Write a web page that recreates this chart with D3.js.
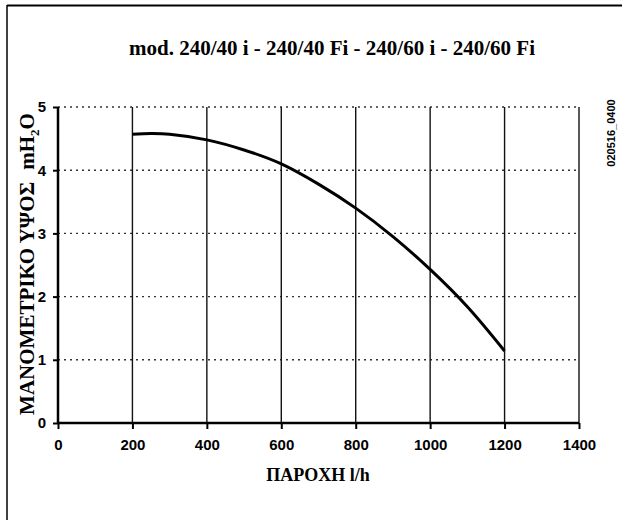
<!DOCTYPE html>
<html><head><meta charset="utf-8">
<script src="https://cdn.jsdelivr.net/npm/d3@7"></script>
<style>body{margin:0;background:#fff}svg{display:block}</style>
</head><body>
<script>
const flowValues = [200, 250, 300, 400, 500, 600, 700, 800, 900, 1000, 1100, 1200];
const headValues = [4.57, 4.58, 4.57, 4.48, 4.32, 4.10, 3.78, 3.40, 2.95, 2.43, 1.84, 1.14];
const xTicks = [0, 200, 400, 600, 800, 1000, 1200, 1400];
const yTicks = [0, 1, 2, 3, 4, 5];
const titleText = "mod. 240/40 i - 240/40 Fi - 240/60 i - 240/60 Fi";
const xTitle = "ΠΑΡΟΧΗ l/h";
const yTitle = "ΜΑΝΟΜΕΤΡΙΚΟ ΥΨΟΣ";
const codeText = "020516_0400";

const W = 622, H = 520;
const svg = d3.select("body").append("svg").attr("width", W).attr("height", H);

// frame
svg.append("line").attr("x1", 7).attr("x2", W).attr("y1", 5.5).attr("y2", 5.5).attr("stroke", "#000").attr("stroke-width", 2);
svg.append("line").attr("x1", 7).attr("x2", 7).attr("y1", 5).attr("y2", H).attr("stroke", "#000").attr("stroke-width", 1.5);

const x = d3.scaleLinear().domain([0, 1400]).range([58, 579]);
const y = d3.scaleLinear().domain([0, 5]).range([423, 107]);

// horizontal dotted gridlines
svg.append("g").selectAll("line").data(yTicks.filter(d => d > 0)).join("line")
  .attr("x1", x(0)).attr("x2", x(1400)).attr("y1", d => y(d)).attr("y2", d => y(d))
  .attr("stroke", "#333").attr("stroke-width", 1.4).attr("stroke-dasharray", "2,4");

// vertical solid gridlines
svg.append("g").selectAll("line").data(xTicks.filter(d => d > 0)).join("line")
  .attr("x1", d => x(d)).attr("x2", d => x(d)).attr("y1", y(0)).attr("y2", y(5))
  .attr("stroke", "#111").attr("stroke-width", 1.4);

// axes
const fmt = d3.format("d");
const xAxis = svg.append("g").attr("transform", `translate(0,${y(0)})`)
  .call(d3.axisBottom(x).tickValues(xTicks).tickFormat(fmt).tickSize(6).tickPadding(10).tickSizeOuter(0));
const yAxis = svg.append("g").attr("transform", `translate(${x(0)},0)`)
  .call(d3.axisLeft(y).tickValues(yTicks).tickFormat(fmt).tickSize(5).tickPadding(7).tickSizeOuter(0));
[xAxis, yAxis].forEach(a => {
  a.select(".domain").attr("stroke", "#000").attr("stroke-width", 2.5);
  a.selectAll(".tick line").attr("stroke", "#000").attr("stroke-width", 2);
  a.selectAll(".tick text").attr("fill", "#000")
    .style("font-family", "'Liberation Sans', Arial, sans-serif")
    .style("font-weight", "bold").style("font-size", "15px");
});
yAxis.select(".domain").attr("d", `M0,${y(0)}V${y(5)}`);
xAxis.select(".domain").attr("d", `M${x(0)},0H${x(1400)}`);

// curve
const pts = flowValues.map((f, i) => [f, headValues[i]]);
svg.append("path").datum(pts)
  .attr("d", d3.line().x(d => x(d[0])).y(d => y(d[1])).curve(d3.curveCatmullRom.alpha(0.5)))
  .attr("fill", "none").attr("stroke", "#000").attr("stroke-width", 3);

// title
svg.append("text").attr("x", 332).attr("y", 55).attr("text-anchor", "middle")
  .style("font-family", "'Liberation Serif', 'Times New Roman', serif")
  .style("font-weight", "bold").style("font-size", "21px").text(titleText);

// x title
svg.append("text").attr("x", 318).attr("y", 481).attr("text-anchor", "middle")
  .style("font-family", "'Liberation Serif', 'Times New Roman', serif")
  .style("font-weight", "bold").style("font-size", "18px").text(xTitle);

// y title
const yt = svg.append("text").attr("transform", "translate(34,264) rotate(-90)").attr("text-anchor", "middle")
  .style("font-family", "'Liberation Serif', 'Times New Roman', serif")
  .style("font-weight", "bold").style("font-size", "21px");
yt.append("tspan").text(yTitle);
yt.append("tspan").attr("dx", 12).text("mH");
yt.append("tspan").attr("dy", 5).style("font-size", "13px").text("2");
yt.append("tspan").attr("dy", -5).text("O");

// code
svg.append("text").attr("transform", "translate(615,133) rotate(-90)").attr("text-anchor", "middle")
  .style("font-family", "'Liberation Sans', Arial, sans-serif")
  .style("font-weight", "bold").style("font-size", "11px").text(codeText);
</script>
</body></html>
